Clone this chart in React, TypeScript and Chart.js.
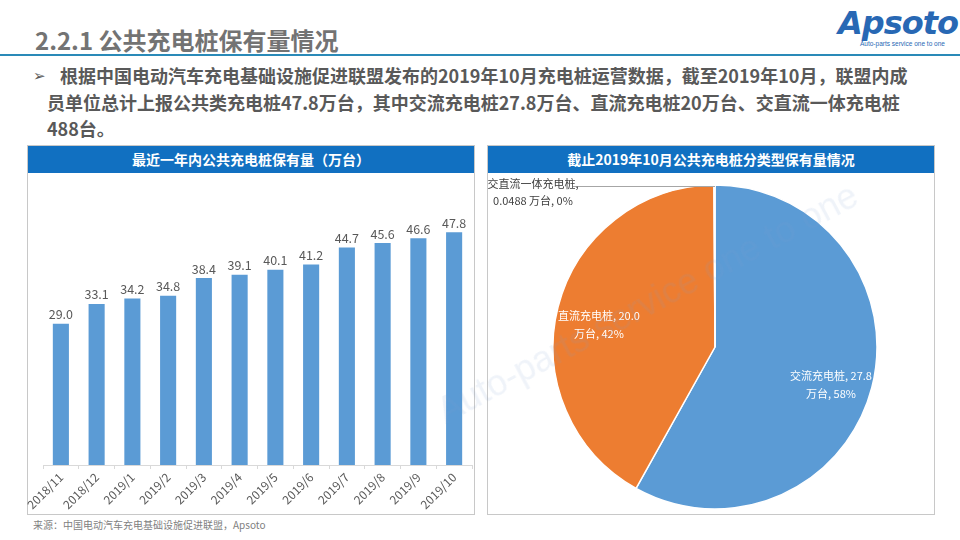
import React, { useEffect, useRef } from "react";
import { Chart, registerables } from "chart.js";

Chart.register(...registerables);

const months = ["2018/11", "2018/12", "2019/1", "2019/2", "2019/3", "2019/4", "2019/5", "2019/6", "2019/7", "2019/8", "2019/9", "2019/10"];
const stockValues = [29.0, 33.1, 34.2, 34.8, 38.4, 39.1, 40.1, 41.2, 44.7, 45.6, 46.6, 47.8];

const pileTypes = ["交流充电桩", "直流充电桩", "交直流一体充电桩"];
const pileValues = [27.8, 20.0, 0.0488];
const pileValueText = ["27.8", "20.0", "0.0488"];
const pileColors = ["#5b9bd5", "#ed7d31", "#a5a5a5"];

const CJK = '"Microsoft YaHei", "Noto Sans CJK SC", "Noto Sans", sans-serif';

const barLabelPlugin = {
  id: "barLabels",
  afterDatasetsDraw(chart: any) {
    const ctx = chart.ctx;
    const meta = chart.getDatasetMeta(0);
    ctx.save();
    ctx.font = `12.5px ${CJK}`;
    ctx.fillStyle = "#595959";
    ctx.textAlign = "center";
    ctx.textBaseline = "bottom";
    meta.data.forEach((el: any, i: number) => {
      ctx.fillText(stockValues[i].toFixed(1), el.x, el.y - 3);
    });
    ctx.restore();
  },
};

const pieLabelPlugin = {
  id: "pieLabels",
  afterDatasetsDraw(chart: any) {
    const ctx = chart.ctx;
    const meta = chart.getDatasetMeta(0);
    const total = pileValues.reduce((a, b) => a + b, 0);
    ctx.save();
    ctx.font = `11px ${CJK}`;
    ctx.textAlign = "center";
    ctx.textBaseline = "middle";
    meta.data.forEach((arc: any, i: number) => {
      const pct = Math.round((pileValues[i] / total) * 100);
      if (i < 2) {
        const mid = (arc.startAngle + arc.endAngle) / 2;
        const r = arc.outerRadius * 0.74;
        const x = arc.x + Math.cos(mid) * r;
        const y = arc.y + Math.sin(mid) * r;
        ctx.fillStyle = "#ffffff";
        ctx.fillText(`${pileTypes[i]}, ${pileValueText[i]}`, x, y - 1);
        ctx.fillText(`万台, ${pct}%`, x, y + 17);
      } else {
        const px = arc.x + Math.cos(arc.endAngle) * arc.outerRadius;
        const py = arc.y + Math.sin(arc.endAngle) * arc.outerRadius;
        const lx = arc.x - arc.outerRadius * 0.877;
        ctx.strokeStyle = "#a6a6a6";
        ctx.lineWidth = 1;
        ctx.beginPath();
        ctx.moveTo(px, py + 1.5);
        ctx.lineTo(lx, py + 1.5);
        ctx.stroke();
        ctx.fillStyle = "#404040";
        ctx.fillText(`${pileTypes[i]},`, lx - 40, py - 1);
        ctx.fillText(`${pileValueText[i]} 万台, ${pct}%`, lx - 40, py + 16);
      }
    });
    ctx.restore();
  },
};

function BarChart() {
  const ref = useRef<HTMLCanvasElement>(null);
  useEffect(() => {
    const chart = new Chart(ref.current as HTMLCanvasElement, {
      type: "bar",
      data: {
        labels: months,
        datasets: [
          {
            data: stockValues,
            backgroundColor: "#5b9bd5",
            barPercentage: 0.45,
            categoryPercentage: 1,
          },
        ],
      },
      options: {
        animation: false,
        responsive: false,
        maintainAspectRatio: false,
        layout: { autoPadding: false, padding: { left: 16, right: 2, top: 0, bottom: 0 } },
        plugins: { legend: { display: false }, tooltip: { enabled: false } },
        scales: {
          x: {
            grid: { display: true, drawOnChartArea: false, drawTicks: true, tickLength: 4, color: "#d9d9d9", offset: true },
            border: { display: true, color: "#d9d9d9" },
            ticks: {
              color: "#595959",
              font: { size: 12, family: CJK },
              minRotation: 45,
              maxRotation: 45,
              padding: 1,
              autoSkip: false,
            },
            afterFit: (scale: any) => {
              scale.height = 48;
            },
          },
          y: { display: false, min: 0, max: 60 },
        },
      },
      plugins: [barLabelPlugin],
    });
    return () => chart.destroy();
  }, []);
  return <canvas ref={ref} width={447} height={340} style={{ position: "absolute", left: 27, top: 173, width: 447, height: 340 }} />;
}

function PieChart() {
  const ref = useRef<HTMLCanvasElement>(null);
  useEffect(() => {
    const chart = new Chart(ref.current as HTMLCanvasElement, {
      type: "pie",
      data: {
        labels: pileTypes,
        datasets: [
          {
            data: pileValues,
            backgroundColor: pileColors,
            borderColor: "#ffffff",
            borderWidth: 1.5,
          },
        ],
      },
      options: {
        animation: false,
        responsive: false,
        maintainAspectRatio: false,
        radius: 162,
        layout: { padding: { left: 62, right: 53, top: 8, bottom: 0 } },
        plugins: { legend: { display: false }, tooltip: { enabled: false } },
      } as any,
      plugins: [pieLabelPlugin],
    });
    return () => chart.destroy();
  }, []);
  return <canvas ref={ref} width={447} height={340} style={{ position: "absolute", left: 487, top: 173, width: 447, height: 340 }} />;
}

const boxStyle = (left: number): React.CSSProperties => ({
  position: "absolute",
  left,
  top: 145,
  width: 446,
  height: 368,
  border: "1px solid #c8c8c8",
  background: "#ffffff",
  boxSizing: "content-box",
});

const headerStyle: React.CSSProperties = {
  position: "absolute",
  left: 0,
  top: 0,
  right: 0,
  height: 27,
  background: "#1170c1",
  color: "#ffffff",
  fontWeight: 700,
  fontSize: 14,
  lineHeight: "27px",
  textAlign: "center",
  fontFamily: CJK,
};

export default function App() {
  return (
    <div style={{ position: "fixed", left: 0, top: 0, width: 960, height: 540, background: "#ffffff", overflow: "hidden", fontFamily: CJK }}>
      <div style={{ position: "absolute", left: 35, top: 24, fontSize: 24, fontWeight: 700, color: "#737373", lineHeight: "32px", whiteSpace: "nowrap" }}>
        2.2.1 公共充电桩保有量情况
      </div>
      <div style={{ position: "absolute", left: 0, top: 54, width: 960, height: 2, background: "#2a8ab8" }} />
      <div style={{ position: "absolute", left: 838, top: 5, fontSize: 32, fontStyle: "italic", fontWeight: 700, color: "#2868b4", lineHeight: "36px", fontFamily: '"DejaVu Sans", sans-serif', letterSpacing: -1 }}>
        Apsoto
      </div>
      <div style={{ position: "absolute", left: 860, top: 40, fontSize: 6.5, color: "#2868b4", lineHeight: "8px", whiteSpace: "nowrap", fontFamily: '"Liberation Sans", sans-serif' }}>
        Auto-parts service one to one
      </div>
      <div style={{ position: "absolute", left: 33, top: 63, fontSize: 15, color: "#595959", lineHeight: "24px" }}>➢</div>
      <div style={{ position: "absolute", left: 47, top: 62, fontSize: 18, fontWeight: 700, color: "#595959", lineHeight: "26.5px", whiteSpace: "nowrap" }}>
        <div style={{ paddingLeft: 13 }}>根据中国电动汽车充电基础设施促进联盟发布的2019年10月充电桩运营数据，截至2019年10月，联盟内成</div>
        <div>员单位总计上报公共类充电桩47.8万台，其中交流充电桩27.8万台、直流充电桩20万台、交直流一体充电桩</div>
        <div>488台。</div>
      </div>

      <div style={boxStyle(27)}>
        <div style={headerStyle}>最近一年内公共充电桩保有量（万台）</div>
      </div>
      <div style={boxStyle(487)}>
        <div style={headerStyle}>截止2019年10月公共充电桩分类型保有量情况</div>
      </div>

      <BarChart />
      <PieChart />

      <div style={{ position: "absolute", left: 33, top: 518, fontSize: 10, color: "#7f7f7f", lineHeight: "14px", whiteSpace: "nowrap" }}>
        来源：中国电动汽车充电基础设施促进联盟，Apsoto
      </div>

      <div
        style={{
          position: "absolute",
          left: 430,
          top: 395,
          fontSize: 36,
          color: "rgba(120,160,205,0.12)",
          transform: "rotate(-28deg)",
          transformOrigin: "left top",
          whiteSpace: "nowrap",
          pointerEvents: "none",
          fontFamily: '"Liberation Sans", sans-serif',
        }}
      >
        Auto-parts service one to one
      </div>
    </div>
  );
}
